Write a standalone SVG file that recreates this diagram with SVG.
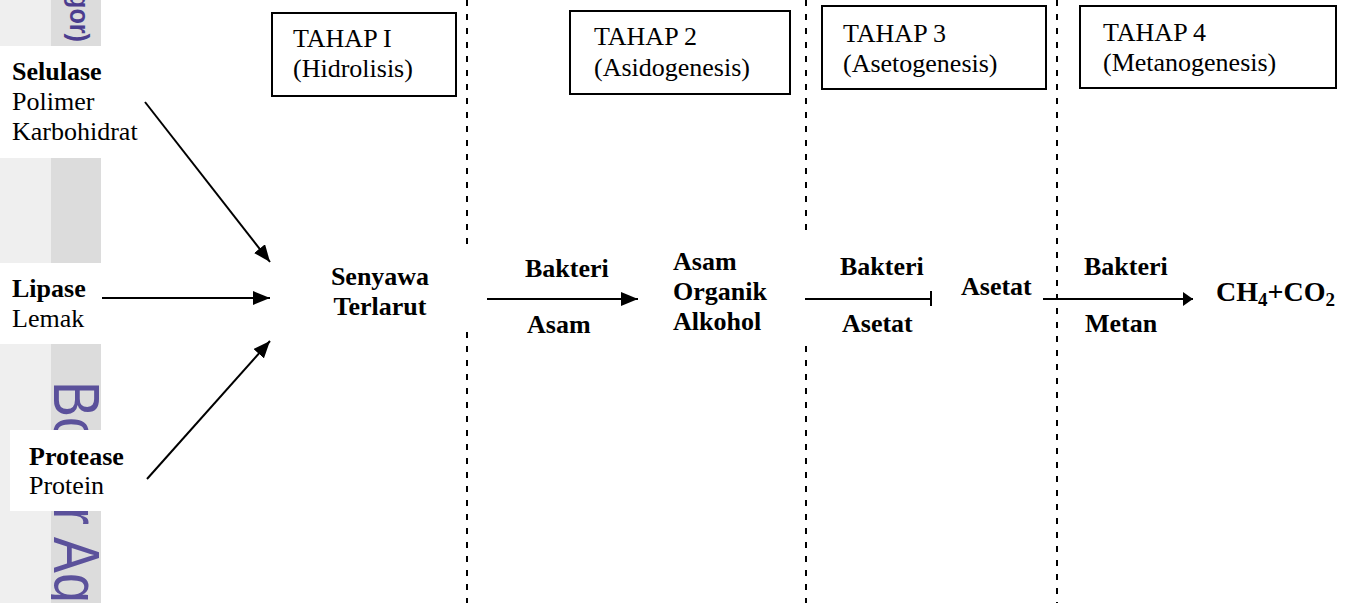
<svg xmlns="http://www.w3.org/2000/svg" width="1352" height="603" viewBox="0 0 1352 603">
<style>
text{font-family:"Liberation Serif","Times New Roman",serif;font-size:26px;fill:#000}
.b{font-weight:bold}
.box{fill:#fff;stroke:#000;stroke-width:2}
.dash{stroke:#000;stroke-width:2;stroke-dasharray:6 8;fill:none}
.ln{stroke:#000;stroke-width:2;fill:none}
.lt{fill:#efefef}
.dk{fill:#dcdcdc}
.wm{font-family:"Liberation Sans",Arial,sans-serif;fill:#5b519b}
</style>
<defs>
<marker id="ah" markerUnits="userSpaceOnUse" markerWidth="17" markerHeight="14" refX="17" refY="7" orient="auto"><path d="M0,0 L17,7 L0,14 z" fill="#000"/></marker>
<marker id="ahs" markerUnits="userSpaceOnUse" markerWidth="10" markerHeight="14" refX="10" refY="7" orient="auto"><path d="M0,0 L10,7 L0,14 z" fill="#000"/></marker>
<clipPath id="strip"><rect x="51" y="0" width="50" height="603"/></clipPath>
</defs>
<rect x="0" y="0" width="1352" height="603" fill="#fff"/>
<g id="watermark">
<rect class="lt" x="0" y="0" width="51" height="46"/>
<rect class="dk" x="51" y="0" width="50" height="46"/>
<rect class="lt" x="0" y="158" width="51" height="105"/>
<rect class="dk" x="51" y="158" width="50" height="105"/>
<rect class="lt" x="0" y="344" width="51" height="259"/>
<rect class="dk" x="51" y="344" width="50" height="259"/>
<g clip-path="url(#strip)">
<text class="wm" font-weight="bold" style="font-size:28px;fill:#4b3d8f" text-anchor="end" transform="translate(70,42) rotate(90) scale(0.9,1)">gor)</text>
<text class="wm" style="font-size:65px" transform="translate(54,381) rotate(90) scale(0.83,1)">Bogor Ag</text>
</g>
<rect x="10" y="430" width="95" height="81" fill="#fff"/>
</g>
<g id="dividers">
<line class="dash" x1="467" y1="0" x2="467" y2="248"/>
<line class="dash" x1="467" y1="332" x2="467" y2="603"/>
<line class="dash" x1="806" y1="0" x2="806" y2="238"/>
<line class="dash" x1="806" y1="346" x2="806" y2="603"/>
<line class="dash" x1="1057" y1="0" x2="1057" y2="603"/>
</g>
<g id="tahap1"><rect class="box" x="272" y="13" width="184" height="83"/><text x="293" y="47">TAHAP I</text><text x="293" y="77">(Hidrolisis)</text></g>
<g id="tahap2"><rect class="box" x="570" y="11" width="220" height="83"/><text x="594" y="45">TAHAP 2</text><text x="594" y="76">(Asidogenesis)</text></g>
<g id="tahap3"><rect class="box" x="822" y="6" width="224" height="83"/><text x="843" y="42">TAHAP 3</text><text x="843" y="72">(Asetogenesis)</text></g>
<g id="tahap4"><rect class="box" x="1080" y="6" width="256" height="82"/><text x="1103" y="41">TAHAP 4</text><text x="1103" y="71">(Metanogenesis)</text></g>
<g id="selulase"><text class="b" x="12" y="80">Selulase</text><text x="12" y="110">Polimer</text><text x="12" y="140">Karbohidrat</text></g>
<g id="lipase"><text class="b" x="12" y="297">Lipase</text><text x="12" y="327">Lemak</text></g>
<g id="protease"><text class="b" x="29" y="465">Protease</text><text x="29" y="494">Protein</text></g>
<g id="senyawa"><text class="b" x="380" y="285" text-anchor="middle">Senyawa</text><text class="b" x="380" y="315" text-anchor="middle">Terlarut</text></g>
<g id="asam-organik"><text class="b" x="673" y="270">Asam</text><text class="b" x="673" y="300">Organik</text><text class="b" x="673" y="330">Alkohol</text></g>
<g id="asetat"><text class="b" x="961" y="295">Asetat</text></g>
<g id="ch4co2"><text class="b" x="1216" y="301" style="font-size:28px">CH<tspan style="font-size:19px" dy="5">4</tspan><tspan dy="-5">+CO</tspan><tspan style="font-size:19px" dy="5">2</tspan></text></g>
<g id="connectors">
<line class="ln" x1="145" y1="102" x2="270" y2="262" marker-end="url(#ah)"/>
<line class="ln" x1="102" y1="298" x2="270" y2="298" marker-end="url(#ah)"/>
<line class="ln" x1="147" y1="479" x2="270" y2="341" marker-end="url(#ah)"/>
<line class="ln" x1="487" y1="299" x2="638" y2="299" marker-end="url(#ah)"/>
<line class="ln" x1="805" y1="299" x2="931" y2="299"/>
<line class="ln" x1="931" y1="291" x2="931" y2="306"/>
<line class="ln" x1="1043" y1="299" x2="1193" y2="299" marker-end="url(#ahs)"/>
<text class="b" x="525" y="277">Bakteri</text>
<text class="b" x="527" y="333">Asam</text>
<text class="b" x="840" y="275">Bakteri</text>
<text class="b" x="842" y="332">Asetat</text>
<text class="b" x="1084" y="275">Bakteri</text>
<text class="b" x="1085" y="332">Metan</text>
</g>
</svg>
